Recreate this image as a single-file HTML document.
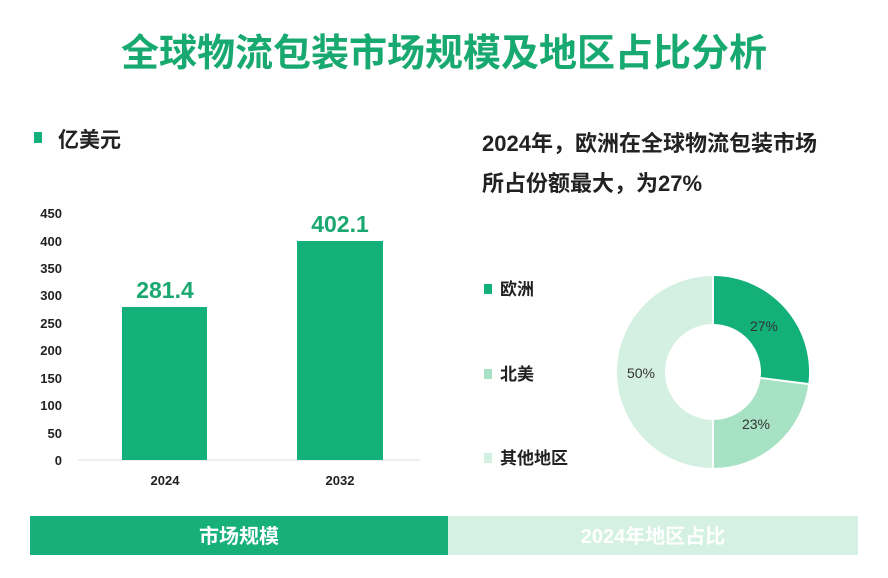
<!DOCTYPE html>
<html><head><meta charset="utf-8"><style>
body{margin:0;width:888px;height:578px;background:#fff;position:relative;overflow:hidden;font-family:"Liberation Sans","Noto Sans CJK SC",sans-serif}
.a{position:absolute;white-space:nowrap}
</style></head><body>
<div class="a" style="left:0;width:888px;top:22px;text-align:center;font-size:38px;font-weight:bold;color:#17a96f">全球物流包装市场规模及地区占比分析</div>
<div class="a" style="left:34px;top:132px;width:8px;height:11px;background:#13b07a"></div>
<div class="a" style="left:58px;top:124px;font-size:21px;font-weight:bold;color:#222">亿美元</div>
<div class="a" style="left:482px;top:124px;font-size:22px;font-weight:bold;color:#222;line-height:40px">2024年，欧洲在全球物流包装市场<br>所占份额最大，为27%</div>
<svg class="a" style="left:0;top:0" width="888" height="578">
<g font-family="Liberation Sans,sans-serif" font-size="13" font-weight="bold" fill="#222" text-anchor="end">
<text x="62" y="218">450</text><text x="62" y="246">400</text><text x="62" y="273">350</text><text x="62" y="300">300</text><text x="62" y="328">250</text><text x="62" y="355">200</text><text x="62" y="383">150</text><text x="62" y="410">100</text><text x="62" y="438">50</text><text x="62" y="465">0</text>
<text x="165" y="485" text-anchor="middle">2024</text><text x="340" y="485" text-anchor="middle">2032</text>
</g>
<line x1="78" y1="460" x2="420" y2="460" stroke="#ddd" stroke-width="1"/>
<rect x="122" y="307" width="85" height="153" fill="#13b07a"/>
<rect x="297" y="241" width="86" height="219" fill="#13b07a"/>
<g font-family="Liberation Sans,sans-serif" font-size="23" font-weight="bold" fill="#1aa870" text-anchor="middle">
<text x="165" y="298">281.4</text><text x="340" y="232">402.1</text></g>
<path d="M713 276 A96 96 0 0 1 808.3 384 L760.6 378 A48 48 0 0 0 713 324Z" fill="#13b07a"/>
<path d="M808.3 384 A96 96 0 0 1 713 468 L713 420 A48 48 0 0 0 760.6 378Z" fill="#a8e2c4"/>
<path d="M713 468 A96 96 0 0 1 713 276 L713 324 A48 48 0 0 0 713 420Z" fill="#d4f0e3"/>
<line x1="713" y1="276" x2="713" y2="324" stroke="#fff" stroke-width="2"/>
<line x1="713" y1="420" x2="713" y2="468" stroke="#fff" stroke-width="2"/>
<line x1="808.3" y1="384" x2="760.6" y2="378" stroke="#fff" stroke-width="2"/>
<g font-family="Liberation Sans,sans-serif" font-size="14" fill="#333" text-anchor="middle">
<text x="764" y="331">27%</text><text x="756" y="429">23%</text><text x="641" y="378">50%</text></g>
<rect x="484" y="284" width="8" height="10" fill="#13b07a"/>
<rect x="484" y="369" width="8" height="10" fill="#a8e2c4"/>
<rect x="484" y="453" width="8" height="10" fill="#d4f0e3"/>
<g font-family="Liberation Sans,Noto Sans CJK SC,sans-serif" font-size="17" font-weight="bold" fill="#222">
<text x="500" y="295">欧洲</text><text x="500" y="380">北美</text><text x="500" y="464">其他地区</text></g>
<rect x="30" y="516" width="418" height="39" fill="#17b07a"/>
<rect x="448" y="516" width="410" height="39" fill="#d4f1e3"/>
<g font-family="Liberation Sans,Noto Sans CJK SC,sans-serif" font-size="20" font-weight="bold" fill="#fff" text-anchor="middle">
<text x="239" y="543">市场规模</text><text x="653" y="543">2024年地区占比</text></g>
</svg>
</body></html>
